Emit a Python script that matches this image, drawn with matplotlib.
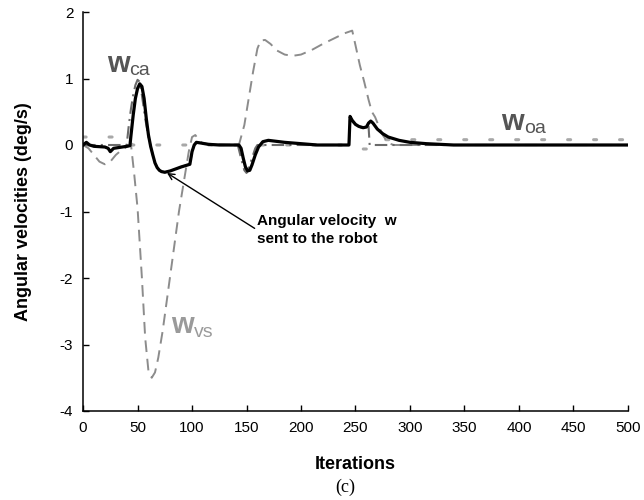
import matplotlib
matplotlib.use("Agg")
import matplotlib.pyplot as plt

plt.rcParams["font.family"] = ["Liberation Sans", "DejaVu Sans"]
plt.rcParams["axes.unicode_minus"] = False

# ── Data ──
# w : angular velocity sent to the robot (solid black)
w_it = [0, 3, 6, 10, 20, 23, 25, 28, 32, 40, 43, 44, 46, 48, 50, 52, 54, 56, 58,
        60, 62, 64, 66, 68, 70, 72, 75, 80, 85, 90, 96, 98, 100, 102, 104, 108,
        115, 125, 143, 145, 147, 149, 151, 153, 155, 158, 161, 165, 170, 175,
        185, 200, 215, 244, 245, 247, 250, 253, 257, 260, 262, 264, 266, 270,
        275, 280, 290, 300, 315, 340, 500]
w_val = [0.0, 0.04, 0.0, -0.02, -0.03, -0.05, -0.1, -0.05, -0.04, -0.02, -0.01,
         0.15, 0.45, 0.7, 0.85, 0.92, 0.88, 0.7, 0.4, 0.15, -0.02, -0.15, -0.27,
         -0.34, -0.38, -0.4, -0.41, -0.39, -0.36, -0.33, -0.3, -0.29, -0.1, 0.0,
         0.04, 0.03, 0.01, 0.0, 0.0, -0.05, -0.2, -0.33, -0.39, -0.38, -0.3,
         -0.15, -0.03, 0.05, 0.07, 0.06, 0.04, 0.02, 0.0, 0.0, 0.43, 0.37, 0.31,
         0.28, 0.26, 0.27, 0.33, 0.36, 0.33, 0.24, 0.17, 0.12, 0.07, 0.04, 0.02,
         0.0, 0.0]

# w_vs : visual servoing (dashed)
vs_it = [0, 5, 10, 15, 20, 25, 30, 35, 40, 44, 47, 50, 54, 57, 60, 63, 66, 69,
         73, 78, 83, 88, 93, 97, 100, 103, 106, 110, 143, 148, 152, 156, 160,
         163, 167, 172, 178, 185, 192, 200, 210, 220, 230, 240, 247, 250, 254,
         258, 262, 265, 268, 271, 275, 280, 285, 500]
vs_val = [0.0, -0.05, -0.15, -0.25, -0.29, -0.25, -0.15, -0.08, -0.03, 0.0,
          -0.45, -0.95, -2.0, -2.9, -3.4, -3.5, -3.42, -3.2, -2.8, -2.2, -1.6,
          -1.0, -0.5, -0.1, 0.12, 0.15, 0.08, 0.02, 0.0, 0.3, 0.7, 1.1, 1.45,
          1.57, 1.58, 1.52, 1.42, 1.36, 1.34, 1.36, 1.43, 1.52, 1.6, 1.68, 1.72,
          1.5, 1.2, 0.95, 0.68, 0.5, 0.42, 0.3, 0.15, 0.03, 0.0, 0.0]

# w_ca : collision avoidance (dash-dot)
ca_it = [0, 40, 42, 44, 46, 48, 50, 52, 54, 57, 60, 62, 64, 66, 68, 70, 72, 75,
         80, 85, 90, 96, 98, 100, 102, 104, 108, 115, 125, 142, 145, 148, 150,
         152, 155, 158, 160, 244, 245, 248, 252, 256, 260, 262, 263, 500]
ca_val = [0.0, 0.0, 0.3, 0.55, 0.75, 0.9, 0.98, 0.95, 0.75, 0.4, 0.12, -0.02,
          -0.15, -0.27, -0.34, -0.38, -0.4, -0.41, -0.39, -0.36, -0.33, -0.3,
          -0.29, -0.1, 0.0, 0.04, 0.03, 0.01, 0.0, 0.0, -0.2, -0.38, -0.42,
          -0.35, -0.2, -0.05, 0.0, 0.0, 0.4, 0.34, 0.28, 0.26, 0.27, 0.28, 0.0,
          0.0]

# w_oa : obstacle avoidance (dotted)
oa_it = [0, 40, 45, 240, 245, 265, 275, 500]
oa_val = [0.12, 0.12, 0.0, 0.0, -0.06, -0.06, 0.08, 0.08]

x_ticks = [0, 50, 100, 150, 200, 250, 300, 350, 400, 450, 500]
y_ticks = [-4, -3, -2, -1, 0, 1, 2]

fig = plt.figure(figsize=(6.44, 5.0), dpi=100)
ax = fig.add_axes([0.129, 0.178, 0.846, 0.798])

ax.plot(oa_it, oa_val, color="#a8a8a8", lw=2.2, linestyle=(0, (1, 7.5)),
        solid_capstyle="round", dash_capstyle="round", zorder=1)
ax.plot(vs_it, vs_val, color="#8c8c8c", lw=1.4, linestyle=(0, (6, 3.5)), zorder=2)
ax.plot(ca_it, ca_val, color="#6a6a6a", lw=1.5, linestyle=(0, (6, 2.5, 1, 2.5)),
        zorder=3)
ax.plot(w_it, w_val, color="black", lw=2.3, zorder=4)

# series labels: bold "w" with a smaller subscript
for x0, y0, sub, col in [(22, 1.10, "ca", "#555555"),
                         (81, -2.83, "vs", "#9a9a9a"),
                         (384, 0.23, "oa", "#555555")]:
    ax.text(x0, y0, "w", fontsize=21, fontweight="bold", color=col,
            ha="left", va="baseline")
    ax.annotate(sub, xy=(x0, y0), xytext=(16, -2.5), textcoords="offset points",
                fontsize=14, color=col, ha="left", va="baseline")

ax.annotate("Angular velocity  w\nsent to the robot", xy=(77, -0.42),
            xytext=(160, -1.28), fontsize=11, fontweight="bold",
            ha="left", va="center", linespacing=1.35,
            arrowprops=dict(arrowstyle="->", color="black", lw=1.0,
                            shrinkA=0, shrinkB=0, relpos=(0, 0.5)))

ax.set_xlim(0, 500)
ax.set_ylim(-4, 2)
ax.set_xticks(x_ticks)
ax.set_yticks(y_ticks)
ax.tick_params(direction="in", length=4, width=1, labelsize=11, pad=7)
for side in ["top", "right"]:
    ax.spines[side].set_visible(False)
for side in ["left", "bottom"]:
    ax.spines[side].set_linewidth(1.1)

ax.set_xlabel("Iterations", fontsize=13, fontweight="bold", labelpad=15)
ax.set_ylabel("Angular velocities (deg/s)", fontsize=13, fontweight="bold",
              labelpad=20)

fig.text(0.536, 0.026, "(c)", fontsize=13, family="Liberation Serif",
         ha="center", va="center")

fig.savefig("out.png", dpi=100)
